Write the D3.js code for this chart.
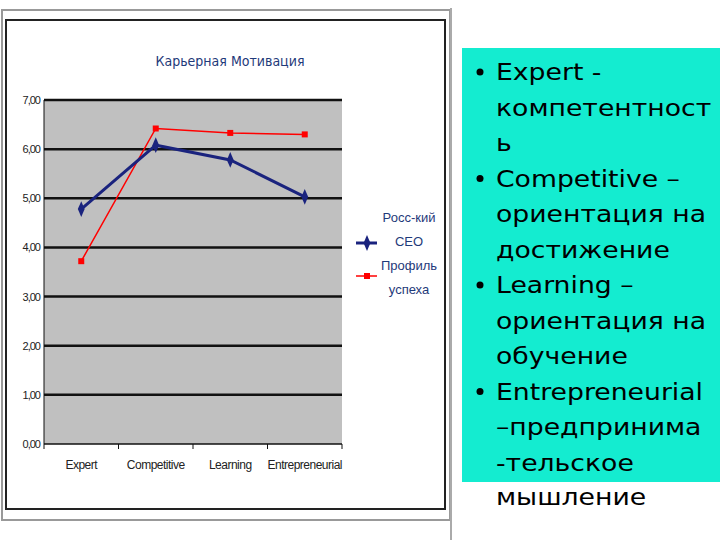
<!DOCTYPE html>
<html><head><meta charset="utf-8">
<script src="https://cdn.jsdelivr.net/npm/d3@7"></script>
<style>body{margin:0;background:#fff}</style></head>
<body><svg id="c" width="720" height="540"></svg>
<script>
const categories=["Expert","Competitive","Learning","Entrepreneurial"];
const ceo=[4.78,6.08,5.78,5.03];
const profile=[3.72,6.42,6.33,6.30];
const yTicks=[0,1,2,3,4,5,6,7];
const tickLabels=["0,00","1,00","2,00","3,00","4,00","5,00","6,00","7,00"];
const bullets=[["Expert -","компетентност","ь"],["Competitive –","ориентация на","достижение"],["Learning –","ориентация на","обучение"],["Entrepreneurial","–предпринима","-тельское"]];

const svg=d3.select("#c");
svg.append("rect").attr("x",2).attr("y",10).attr("width",448).attr("height",510).attr("fill","none").attr("stroke","#999").attr("stroke-width",2);
svg.append("rect").attr("x",6).attr("y",20).attr("width",439).attr("height",489).attr("fill","#fff").attr("stroke","#222").attr("stroke-width",2);
svg.append("line").attr("x1",451).attr("x2",451).attr("y1",8).attr("y2",540).attr("stroke","#aaa").attr("stroke-width",2);

const x=d3.scalePoint().domain(categories).range([44,342]).padding(0.5);
const xb=d3.scaleBand().domain(categories).range([44,342]);
const y=d3.scaleLinear().domain([0,7]).range([444,100]);
svg.append("rect").attr("x",44).attr("y",100).attr("width",298).attr("height",344).attr("fill","#c0c0c0");
svg.selectAll(".g").data(yTicks.slice(1)).join("line").attr("x1",44).attr("x2",342).attr("y1",d=>y(d)).attr("y2",d=>y(d)).attr("stroke","#111").attr("stroke-width",2.5);
svg.append("text").attr("x",230).attr("y",66).attr("text-anchor","middle").attr("font-family","Liberation Sans Narrow, DejaVu Sans Condensed, sans-serif").attr("font-size",14).attr("fill","#1f3a7a").text("Карьерная Мотивация");
svg.selectAll(".yl").data(yTicks).join("text").attr("x",40).attr("y",d=>y(d)+4).attr("text-anchor","end").attr("font-family","Liberation Sans Narrow, sans-serif").attr("font-size",11).attr("letter-spacing",-1).attr("fill","#222").text((d,i)=>tickLabels[i]);
svg.append("line").attr("x1",44).attr("x2",44).attr("y1",100).attr("y2",444).attr("stroke","#111");
svg.append("line").attr("x1",44).attr("x2",342).attr("y1",444).attr("y2",444).attr("stroke","#111").attr("stroke-width",1.5);
svg.selectAll(".xt").data(categories.concat(["end"])).join("line").attr("x1",(d,i)=>44+i*xb.bandwidth()).attr("x2",(d,i)=>44+i*xb.bandwidth()).attr("y1",444).attr("y2",449).attr("stroke","#111");
svg.selectAll(".xl").data(categories).join("text").attr("x",d=>x(d)).attr("y",469).attr("text-anchor","middle").attr("font-family","Liberation Sans Narrow, sans-serif").attr("font-size",12).attr("letter-spacing",-0.5).attr("fill","#222").text(d=>d);
const line=d3.line().x((d,i)=>x(categories[i])).y(d=>y(d));
svg.append("path").attr("d",line(profile)).attr("fill","none").attr("stroke","#f00").attr("stroke-width",1.5);
svg.selectAll(".pm").data(profile).join("rect").attr("x",(d,i)=>x(categories[i])-3).attr("y",d=>y(d)-3).attr("width",6).attr("height",6).attr("fill","#f00");
svg.append("path").attr("d",line(ceo)).attr("fill","none").attr("stroke","#1a237e").attr("stroke-width",3);
const dia=d3.symbol().type(d3.symbolDiamond).size(50);
svg.selectAll(".cm").data(ceo).join("path").attr("d",dia).attr("transform",(d,i)=>`translate(${x(categories[i])},${y(d)}) scale(0.9,1.2)`).attr("fill","#1a237e");
const lf="Liberation Sans Narrow, sans-serif";
svg.append("line").attr("x1",356).attr("x2",377).attr("y1",243).attr("y2",243).attr("stroke","#1a237e").attr("stroke-width",3);
svg.append("path").attr("d",dia).attr("transform","translate(367,243) scale(0.9,1.2)").attr("fill","#1a237e");
svg.append("line").attr("x1",356).attr("x2",377).attr("y1",276).attr("y2",276).attr("stroke","#f00").attr("stroke-width",1.5);
svg.append("rect").attr("x",364).attr("y",273).attr("width",6).attr("height",6).attr("fill","#f00");
[["Росс-кий",222],["CEO",246],["Профиль",270],["успеха",294]].forEach(([t,yy])=>svg.append("text").attr("x",409).attr("y",yy).attr("text-anchor","middle").attr("font-family",lf).attr("font-size",13).attr("fill","#1f3a7a").text(t));
svg.append("rect").attr("x",462).attr("y",48).attr("width",258).attr("height",434).attr("fill","#14ecd0");
let yy=80;
const tf="DejaVu Sans, sans-serif";
function put(t,y0){svg.append("text").attr("transform",`translate(496,${y0}) scale(1.16,1)`).attr("font-family",tf).attr("font-size",23).attr("fill","#000").text(t);}
bullets.forEach(b=>{
  svg.append("circle").attr("cx",480).attr("cy",yy-8).attr("r",3.5).attr("fill","#000");
  b.forEach(t=>{put(t,yy);yy+=35.5;});
});
put("мышление",yy-1);
</script></body></html>
